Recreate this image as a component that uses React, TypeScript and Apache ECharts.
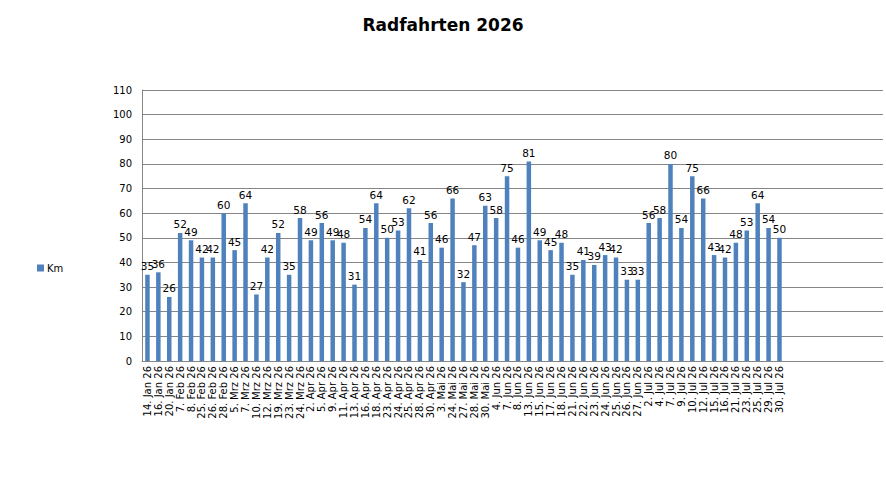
import React, { useEffect, useRef } from "react";
import * as echarts from "echarts";

const categories: string[] = [
  "14. Jan 26", "16. Jan 26", "20. Jan 26",
  "7. Feb 26", "8. Feb 26", "25. Feb 26", "26. Feb 26", "28. Feb 26",
  "5. Mrz 26", "7. Mrz 26", "10. Mrz 26", "12. Mrz 26", "19. Mrz 26", "23. Mrz 26", "24. Mrz 26",
  "2. Apr 26", "5. Apr 26", "9. Apr 26", "11. Apr 26", "13. Apr 26", "16. Apr 26", "18. Apr 26",
  "23. Apr 26", "24. Apr 26", "25. Apr 26", "28. Apr 26", "30. Apr 26",
  "3. Mai 26", "24. Mai 26", "27. Mai 26", "28. Mai 26", "30. Mai 26",
  "4. Jun 26", "7. Jun 26", "8. Jun 26", "13. Jun 26", "15. Jun 26", "17. Jun 26", "18. Jun 26",
  "21. Jun 26", "22. Jun 26", "23. Jun 26", "24. Jun 26", "25. Jun 26", "26. Jun 26", "27. Jun 26",
  "2. Jul 26", "4. Jul 26", "7. Jul 26", "9. Jul 26", "10. Jul 26", "12. Jul 26", "15. Jul 26",
  "16. Jul 26", "21. Jul 26", "23. Jul 26", "25. Jul 26", "29. Jul 26", "30. Jul 26",
];

const kmValues: number[] = [
  35, 36, 26,
  52, 49, 42, 42, 60,
  45, 64, 27, 42, 52, 35, 58,
  49, 56, 49, 48, 31, 54, 64, 50, 53, 62, 41, 56,
  46, 66, 32, 47, 63,
  58, 75, 46, 81, 49, 45, 48, 35, 41, 39, 43, 42, 33, 33,
  56, 58, 80, 54, 75, 66, 43, 42, 48, 53, 64, 54, 50,
];

// empty trailing category slots shown in the original chart
const emptySlots = 9;

const yTicks = { min: 0, max: 110, interval: 10 };

export default function App() {
  const ref = useRef<HTMLDivElement>(null);

  useEffect(() => {
    if (!ref.current) return;
    document.body.style.margin = "0";
    const chart = echarts.init(ref.current, undefined, { renderer: "svg" });
    const cats = [...categories, ...Array.from({ length: emptySlots }, () => "")];
    const vals: (number | null)[] = [...kmValues, ...Array.from({ length: emptySlots }, () => null)];
    chart.setOption({
      animation: false,
      backgroundColor: "#ffffff",
      textStyle: { fontFamily: "DejaVu Sans" },
      title: {
        text: "Radfahrten 2026",
        left: "center",
        top: 11,
        textStyle: { fontFamily: "DejaVu Sans", fontWeight: "bold", fontSize: 17, color: "#000" },
      },
      legend: {
        data: ["Km"],
        left: 32,
        top: 258,
        orient: "vertical",
        itemWidth: 7,
        itemHeight: 7,
        itemGap: 4,
        icon: "rect",
        textStyle: { fontSize: 10, color: "#000", padding: [0, 0, 0, -2] },
      },
      grid: { left: 142, right: 3, top: 90, bottom: 127, containLabel: false },
      xAxis: {
        type: "category",
        data: cats,
        axisLine: { lineStyle: { color: "#868686" } },
        axisTick: { show: false },
        axisLabel: {
          rotate: 90,
          interval: 0,
          fontSize: 10,
          color: "#000",
          margin: 5,
          fontFamily: "DejaVu Sans",
        },
      },
      yAxis: {
        type: "value",
        min: yTicks.min,
        max: yTicks.max,
        interval: yTicks.interval,
        axisLine: { show: true, lineStyle: { color: "#868686" } },
        axisTick: { show: false },
        splitLine: { lineStyle: { color: "#868686", width: 1 } },
        axisLabel: { fontSize: 10, color: "#000", margin: 10, fontFamily: "DejaVu Sans" },
      },
      series: [
        {
          name: "Km",
          type: "bar",
          data: vals,
          barWidth: 4.5,
          itemStyle: { color: "#4F81BD" },
          label: {
            show: true,
            position: "top",
            distance: 3,
            fontSize: 10.5,
            color: "#000",
            fontFamily: "DejaVu Sans",
          },
        },
      ],
    });
    return () => chart.dispose();
  }, []);

  return <div ref={ref} style={{ width: 886, height: 488 }} />;
}
